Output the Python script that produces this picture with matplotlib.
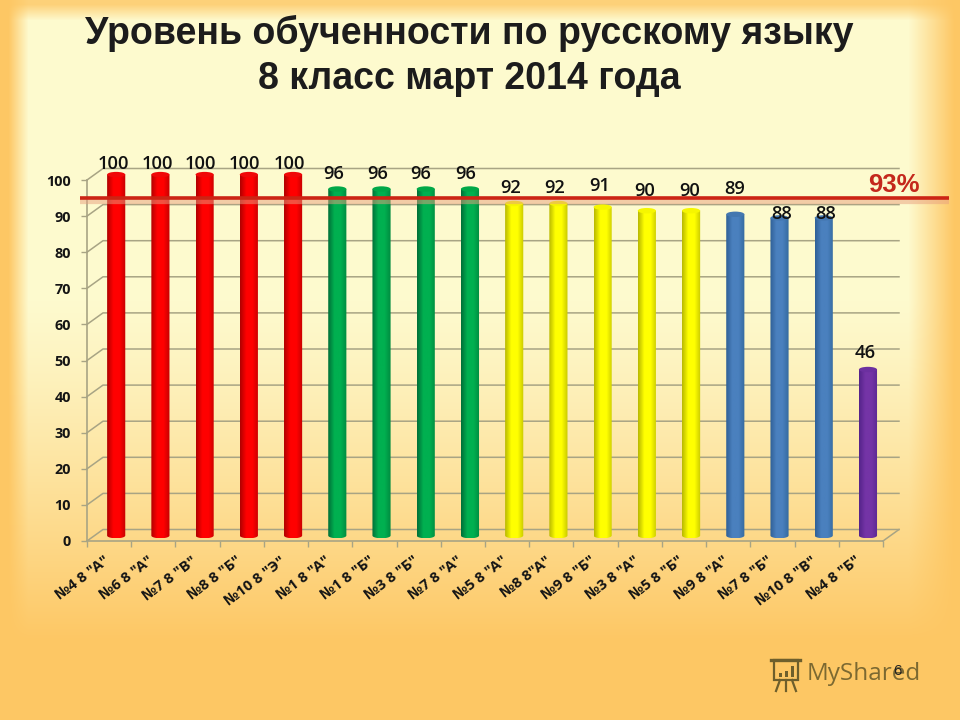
import numpy as np
import matplotlib
matplotlib.use("Agg")
import matplotlib.pyplot as plt
from matplotlib.colors import LinearSegmentedColormap
from matplotlib.lines import Line2D
from matplotlib.patches import Ellipse, Polygon, Rectangle
from matplotlib.transforms import Affine2D

labels = ['№4 8 "А"', '№6 8 "А"', '№7 8 "В"', '№8 8 "Б"', '№10 8 "Э"', '№1 8 "А"',
          '№1 8 "Б"', '№3 8 "Б"', '№7 8 "А"', '№5 8 "А"', '№8 8"А"', '№9 8 "Б"',
          '№3 8 "А"', '№5 8 "Б"', '№9 8 "А"', '№7 8 "Б"', '№10 8 "В"', '№4 8 "Б"']
values = [100, 100, 100, 100, 100, 96, 96, 96, 96, 92, 92, 91, 90, 90, 89, 88, 88, 46]
groups = ["red"] * 5 + ["green"] * 4 + ["yellow"] * 5 + ["blue"] * 3 + ["purple"]
level = 93
yticks = list(range(0, 101, 10))

# edge, bright, edge, top cap
palette = {
    "red": ["#b00000", "#ff0000", "#c40000", "#f00808"],
    "green": ["#006e38", "#00b050", "#008a40", "#00a848"],
    "yellow": ["#b8b800", "#ffff00", "#c8c800", "#f6f600"],
    "blue": ["#2f5f96", "#4a80be", "#346a9f", "#4477b0"],
    "purple": ["#55248a", "#7434a6", "#5c2892", "#6c30a0"],
}
# hand placed labels in the original, pixels above the bar top
label_dy = [11, 11, 11, 11, 11, 15, 15, 15, 15, 15, 15, 21, 20, 20, 25, 4, 4, 17]
label_dx = [-3, -3, -4, -4, -4, -4, -4, -5, -4, -4, -4, -3, -2, -1, -1, 2, 2, -3]

fig = plt.figure(figsize=(9.6, 7.2), dpi=100)

# background glow
bg = fig.add_axes([0, 0, 1, 1])
px, py = np.meshgrid(np.arange(960), np.arange(720))
left = np.clip((28 - px) / 20, 0, 1)
right = np.clip((px - 908) / 46, 0, 1)
top = np.clip((20 - py) / 16, 0, 1) * 0.8
bottom = np.clip((py - 300) / 340, 0, 1) ** 1.2
edge = 1 - (1 - left) * (1 - right) * (1 - top) * (1 - bottom)
light = np.array([253, 250, 206]) / 255
dark = np.array([253, 199, 100]) / 255
bg.imshow(light + (dark - light) * edge[..., None], aspect="auto", interpolation="bilinear")
bg.axis("off")


def fx(x):
    return x / 960


def fy(y):
    return 1 - y / 720


ax = fig.add_axes([fx(87), fy(541), (883 - 87) / 960, (541 - 180) / 720])
ax.patch.set_alpha(0)
n = len(values)
x0, x1 = -0.5, n - 0.5
depth_x, depth_y = 16 / 44.25, 11.5 / 3.61
bar_dx, bar_dy = 0.16, 1.5
half_w, cap_h = 0.205, 0.75
grid_c = "#a8a484"

# floor, walls and grid
for v in yticks:
    ax.plot([x0, x0 + depth_x, x1 + depth_x], [v, v + depth_y, v + depth_y], color=grid_c,
            lw=1.1, clip_on=False, zorder=1)
ax.plot([x1, x1 + depth_x], [0, depth_y], color=grid_c, lw=1.1, clip_on=False, zorder=1)

t = np.linspace(0, np.pi, 30)
for i, (v, g) in enumerate(zip(values, groups)):
    c = palette[g]
    cx = i + bar_dx
    bar_top = v + bar_dy
    cm = LinearSegmentedColormap.from_list(g, [c[0], c[1], c[1], c[2]])
    grad = np.linspace(0, 1, 64).reshape(1, -1)
    im = ax.imshow(grad, cmap=cm, extent=(cx - half_w, cx + half_w, bar_dy - cap_h, bar_top),
                   aspect="auto", zorder=3)
    pts = np.vstack([
        np.column_stack([cx - half_w * np.cos(t), bar_dy - cap_h * np.sin(t)]),
        [[cx + half_w, bar_top], [cx - half_w, bar_top]],
    ])
    shape = Polygon(pts, closed=True, transform=ax.transData, fc="none", ec="none")
    ax.add_patch(shape)
    im.set_clip_box(fig.bbox)
    im.set_clip_path(shape)
    ax.add_patch(Ellipse((cx, bar_top), 2 * half_w, 2 * cap_h, fc=c[3], ec="none", zorder=4,
                         clip_on=False))
    ax.annotate(str(v), (cx, bar_top), xytext=(label_dx[i], label_dy[i]), textcoords="offset pixels",
                ha="center", va="center", fontsize=13.2, fontfamily="Open Sans",
                fontweight="semibold", color="#111111", zorder=7, annotation_clip=False)

ax.set_xlim(x0, x1)
ax.set_ylim(0, 100)
ax.set_yticks(yticks)
ax.set_xticks(np.arange(n + 1) - 0.5)
ax.set_xticklabels([])
ax.set_xticks(np.arange(n), minor=True)
ax.set_xticklabels(labels, minor=True, rotation=37, ha="right", va="top",
                   rotation_mode="anchor", fontsize=10.6, fontweight="bold", fontfamily="Open Sans",
                   color="#151515")
ax.tick_params(axis="x", which="minor", length=0, pad=9)
ax.tick_params(axis="x", which="major", length=4.5, width=1, color=grid_c)
ax.tick_params(axis="y", length=4.5, width=1, color=grid_c, pad=7)
shift = Affine2D().translate(-6, 0)
for lab in ax.get_xticklabels(minor=True):
    lab.set_transform(lab.get_transform() + shift)
for lab in ax.get_yticklabels():
    lab.set_fontsize(10.4)
    lab.set_fontweight("bold")
    lab.set_fontfamily("Open Sans")
    lab.set_color("#151515")
for s in ["top", "right"]:
    ax.spines[s].set_visible(False)
for s in ["left", "bottom"]:
    ax.spines[s].set_color(grid_c)
    ax.spines[s].set_linewidth(1.2)

# 93% target line
line_l = (80 - 87) / 44.25 + x0
line_r = (950 - 87) / 44.25 + x0
ax.plot([line_l, line_r], [level + 1.3] * 2, color="#e8a080", lw=4.5, alpha=0.5,
        clip_on=False, zorder=5, solid_capstyle="butt")
ax.plot([line_l, line_r], [level + 2] * 2, color="#cc2414", lw=2.6, clip_on=False, zorder=6,
        solid_capstyle="butt")
fig.text(fx(894), fy(185), f"{level}%", color="#c4281c", fontsize=18.5, fontweight="bold",
         family="Liberation Sans", ha="center", va="center")

# title
fig.text(fx(469), fy(33), "Уровень обученности по русскому языку", fontsize=27, fontweight="bold",
         family="Liberation Sans", ha="center", va="center", color="#1c1c1c")
fig.text(fx(469), fy(79), "8 класс март 2014 года", fontsize=27, fontweight="bold",
         family="Liberation Sans", ha="center", va="center", color="#1c1c1c")

# watermark and slide number
mark_c = "#6e5f2c"
fig.text(fx(807), fy(674), "MyShared", fontsize=17.5, family="Open Sans", color=mark_c,
         alpha=0.9, ha="left", va="center")
fig.add_artist(Rectangle((fx(774), fy(680)), 24 / 960, 20 / 720, fc="none", ec=mark_c, lw=1.6,
                         transform=fig.transFigure))
fig.add_artist(Line2D([fx(771), fx(800)], [fy(660), fy(660)], color=mark_c, lw=2.4))
for lx0, lx1 in [(780, 776), (786, 786), (792, 796)]:
    fig.add_artist(Line2D([fx(lx0), fx(lx1)], [fy(680), fy(691)], color=mark_c, lw=1.6))
for bx, bh in zip([779, 785, 791], [4, 6, 11]):
    fig.add_artist(Rectangle((fx(bx), fy(677)), 3 / 960, bh / 720, fc=mark_c, ec="none",
                             transform=fig.transFigure))
fig.text(fx(897), fy(671), "6", fontsize=11, family="Liberation Sans", color="#222222",
         ha="center", va="center")

fig.savefig("out.png", dpi=100)
